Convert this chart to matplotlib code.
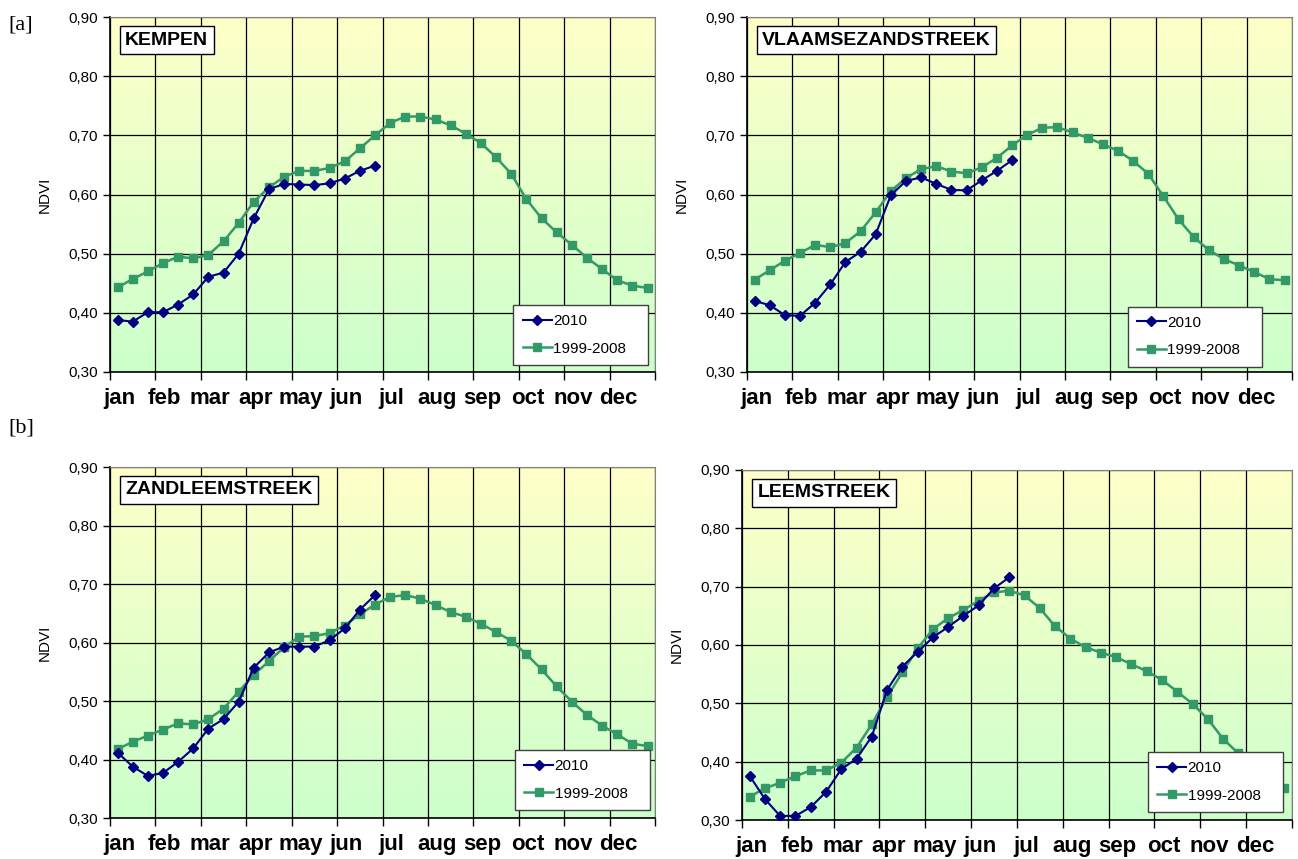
import numpy as np
import matplotlib
matplotlib.use("Agg")
import matplotlib.pyplot as plt
from matplotlib.colors import LinearSegmentedColormap

months = ['jan', 'feb', 'mar', 'apr', 'may', 'jun', 'jul', 'aug', 'sep', 'oct', 'nov', 'dec']
regions = ['KEMPEN', 'VLAAMSEZANDSTREEK', 'ZANDLEEMSTREEK', 'LEEMSTREEK']

# NDVI per dekad (36 per year), 2010 only Jan-Jun
kempen_ref = [0.443, 0.457, 0.470, 0.484, 0.495, 0.492, 0.498, 0.521, 0.552, 0.588, 0.612, 0.630,
              0.640, 0.640, 0.645, 0.656, 0.678, 0.700, 0.721, 0.732, 0.732, 0.727, 0.717, 0.703,
              0.687, 0.663, 0.635, 0.592, 0.560, 0.536, 0.515, 0.493, 0.474, 0.455, 0.446, 0.442]
kempen_2010 = [0.388, 0.385, 0.401, 0.401, 0.414, 0.431, 0.461, 0.468, 0.500, 0.560, 0.609, 0.618,
               0.617, 0.616, 0.619, 0.627, 0.640, 0.649]

vlaams_ref = [0.456, 0.472, 0.488, 0.501, 0.515, 0.511, 0.518, 0.538, 0.570, 0.606, 0.628, 0.643,
              0.648, 0.639, 0.636, 0.646, 0.662, 0.683, 0.701, 0.713, 0.714, 0.705, 0.696, 0.685,
              0.674, 0.657, 0.635, 0.597, 0.558, 0.528, 0.506, 0.491, 0.480, 0.469, 0.457, 0.455]
vlaams_2010 = [0.420, 0.413, 0.396, 0.395, 0.417, 0.448, 0.486, 0.503, 0.533, 0.599, 0.623, 0.629,
               0.618, 0.608, 0.607, 0.624, 0.640, 0.658]

zandleem_ref = [0.418, 0.430, 0.441, 0.451, 0.462, 0.460, 0.469, 0.487, 0.516, 0.545, 0.568, 0.592,
                0.610, 0.611, 0.616, 0.629, 0.648, 0.665, 0.678, 0.681, 0.675, 0.664, 0.652, 0.644,
                0.632, 0.618, 0.603, 0.580, 0.554, 0.525, 0.499, 0.476, 0.458, 0.443, 0.427, 0.423]
zandleem_2010 = [0.412, 0.388, 0.372, 0.377, 0.396, 0.419, 0.453, 0.469, 0.499, 0.557, 0.583, 0.593,
                 0.593, 0.593, 0.604, 0.624, 0.656, 0.681]

leem_ref = [0.340, 0.354, 0.364, 0.375, 0.385, 0.385, 0.398, 0.424, 0.464, 0.511, 0.553, 0.594,
            0.627, 0.646, 0.660, 0.676, 0.690, 0.693, 0.685, 0.663, 0.632, 0.611, 0.596, 0.587,
            0.579, 0.567, 0.555, 0.540, 0.520, 0.499, 0.473, 0.439, 0.414, 0.395, 0.372, 0.354]
leem_2010 = [0.376, 0.336, 0.307, 0.307, 0.322, 0.348, 0.387, 0.405, 0.443, 0.523, 0.563, 0.588,
             0.613, 0.631, 0.650, 0.668, 0.697, 0.716]

data = [(kempen_2010, kempen_ref), (vlaams_2010, vlaams_ref),
        (zandleem_2010, zandleem_ref), (leem_2010, leem_ref)]

# axes positions in figure fraction
positions = [[0.0847, 0.567, 0.420, 0.413],
             [0.5755, 0.567, 0.420, 0.413],
             [0.0847, 0.0477, 0.420, 0.4086],
             [0.5716, 0.0454, 0.4237, 0.4075]]
# lower right corner of each legend (axes fraction)
leg_anchor = [(0.987, 0.02), (0.945, 0.015), (0.99, 0.023), (0.983, 0.023)]

plt.rcParams['font.family'] = ['Liberation Sans', 'DejaVu Sans']
bg = LinearSegmentedColormap.from_list('bg', ['#ccffcc', '#ffffc8'])

fig = plt.figure(figsize=(12.98, 8.59), dpi=100)

for i, (d2010, dref) in enumerate(data):
    ax = fig.add_axes(positions[i])
    ax.set_xlim(0, 36)
    ax.set_ylim(0.30, 0.90)
    grad = np.linspace(0, 1, 256).reshape(-1, 1)
    ax.imshow(grad, cmap=bg, origin='lower', aspect='auto',
              extent=[0, 36, 0.30, 0.90], zorder=0)
    ax.set_xticks(np.arange(0, 37, 3))
    ax.set_xticklabels([])
    yt = np.arange(0.30, 0.91, 0.10)
    ax.set_yticks(yt)
    ax.set_yticklabels([('%.2f' % v).replace('.', ',') for v in yt], fontsize=11)
    ax.grid(True, color='black', linewidth=0.9, zorder=1)
    ax.tick_params(axis='both', direction='out', length=5, width=1, color='black')
    ax.tick_params(axis='x', length=6)
    for m, name in enumerate(months):
        ax.text(3 * m + 0.6, -0.075, name, transform=ax.get_xaxis_transform(),
                ha='center', va='center', fontsize=16, fontweight='bold')
    for s in ['top', 'right']:
        ax.spines[s].set_color('#808080')
    for s in ['left', 'bottom']:
        ax.spines[s].set_color('black')
        ax.spines[s].set_linewidth(1.2)
    ax.set_ylabel('NDVI', fontsize=11, labelpad=12)

    x_ref = np.arange(len(dref)) + 0.5
    x_2010 = np.arange(len(d2010)) + 0.5
    ax.plot(x_ref, dref, color='#339966', marker='s', markersize=6, linewidth=1.8,
            label='1999-2008   ', zorder=3)
    ax.plot(x_2010, d2010, color='#000080', marker='D', markersize=5.5, linewidth=1.5,
            label='2010', zorder=4)

    handles, labels = ax.get_legend_handles_labels()
    leg = ax.legend(handles[::-1], labels[::-1], loc='lower right', bbox_to_anchor=leg_anchor[i],
                    fontsize=11, frameon=True, fancybox=False, edgecolor='#404040',
                    framealpha=1, borderpad=0.6, labelspacing=0.9, handlelength=1.9,
                    handletextpad=0.1, borderaxespad=0)
    leg.get_frame().set_linewidth(1.0)
    leg.set_zorder(10)

    ax.text(0.028, 0.935, regions[i], transform=ax.transAxes, fontsize=14, fontweight='bold',
            ha='left', va='center', zorder=11,
            bbox=dict(boxstyle='square,pad=0.28', facecolor='white', edgecolor='black', linewidth=1))

fig.text(8 / 1298, 1 - 25 / 859, '[a]', fontsize=16, family='Liberation Serif', va='center')
fig.text(8 / 1298, 1 - 428 / 859, '[b]', fontsize=16, family='Liberation Serif', va='center')

fig.savefig('out.png', dpi=100)
